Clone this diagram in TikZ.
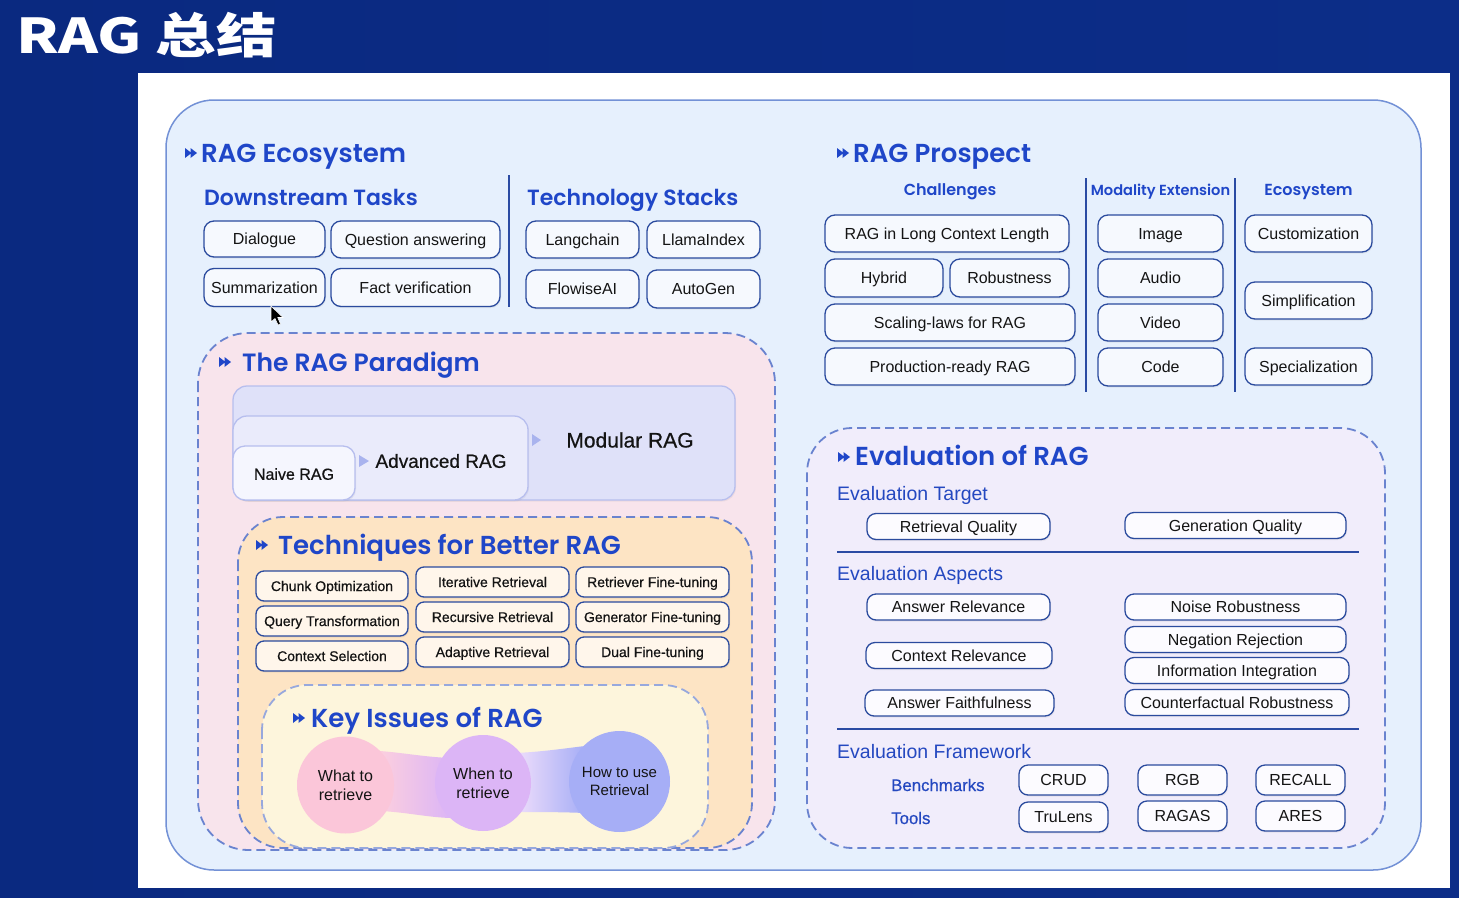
\documentclass[tikz,border=0pt]{standalone}
\usepackage{fontspec}
\usepackage{graphicx}
\usetikzlibrary{shadows}
\setmainfont{Liberation Sans}
\newfontfamily\medfont{Liberation Sans}[FakeBold=0.6]
\newfontfamily\cjkfont{Noto Sans CJK SC}
\IfFontExistsTF{Poppins SemiBold}
  {\newfontfamily\hdraw{Poppins SemiBold}\newcommand\hdf{\hdraw}}
  {\newfontfamily\hdraw{Poppins}\newcommand\hdf{\hdraw\bfseries}}
\definecolor{navy}{HTML}{0A2980}
\definecolor{navyb}{HTML}{0C2D88}
\definecolor{hdc}{HTML}{1F46C8}
\definecolor{subc}{HTML}{2448C0}
\definecolor{outerf}{HTML}{E6F0FD}
\definecolor{outerd}{HTML}{7391D6}
\definecolor{dashc}{HTML}{6A83CF}
\definecolor{pinkf}{HTML}{F8E4EC}
\definecolor{peachf}{HTML}{FDE4C4}
\definecolor{yelf}{HTML}{FDF5DC}
\definecolor{lavf}{HTML}{F1EDFB}
\definecolor{boxd}{HTML}{2B4B9E}
\definecolor{boxf}{HTML}{F6F9FE}
\definecolor{tboxf}{HTML}{FFF6EB}
\definecolor{eboxf}{HTML}{FCFBFF}
\definecolor{sepc}{HTML}{2B4BA3}
\definecolor{modf}{HTML}{DFE1F9}
\definecolor{modd}{HTML}{B7BEEE}
\definecolor{advf}{HTML}{EAEBFB}
\definecolor{naif}{HTML}{F5F6FE}
\definecolor{tipc}{HTML}{A9B3EE}
\definecolor{cpink}{HTML}{FBC6D9}
\definecolor{cpurp}{HTML}{DCB5F6}
\definecolor{cblue}{HTML}{A6AEF6}
\definecolor{txt}{HTML}{141414}
\begin{document}
\begin{tikzpicture}[x=1pt,y=-1pt,
  hd/.style={anchor=base west, inner sep=0pt, text=hdc, font=\hdf\fontsize{26}{30}\selectfont},
  hdtwo/.style={anchor=base west, inner sep=0pt, text=hdc, font=\hdf\fontsize{22}{26}\selectfont},
  hdthree/.style={anchor=base, inner sep=0pt, text=hdc, font=\hdf\fontsize{16}{19}\selectfont},
  evsub/.style={anchor=base west, inner sep=0pt, text=subc, font=\fontsize{19.5}{23}\selectfont},
  evsmall/.style={anchor=base west, inner sep=0pt, text=subc, font=\medfont\fontsize{16.8}{20}\selectfont},
  box/.style={draw=boxd, fill=boxf, line width=1.3pt, rounded corners=10pt, inner sep=0pt,
    text=txt, font=\fontsize{16}{19}\selectfont, text height=11.5pt, text depth=0pt,
    drop shadow={opacity=0.12, shadow xshift=1pt, shadow yshift=-1.5pt}},
  tbox/.style={box, fill=tboxf, rounded corners=8pt, minimum height=30, font=\medfont\fontsize{14}{17}\selectfont, text height=10pt},
  ebox/.style={box, fill=eboxf, rounded corners=9pt, minimum height=26},
  fbox/.style={box, fill=eboxf, rounded corners=9pt, minimum width=89, minimum height=30},
  dashbox/.style={draw=dashc, line width=1.8pt, dash pattern=on 9pt off 5pt},
  sep/.style={draw=sepc, line width=2pt},
  darr/.pic={\fill[hdc] (0,-5)--(6.5,0)--(0,5)--cycle (5.5,-5)--(12,0)--(5.5,5)--cycle;},
  circ/.style={circle, inner sep=0pt, align=center, text=txt, font=\fontsize{16}{19}\selectfont}
]
\useasboundingbox (0,0) rectangle (1459,897);
\shade[left color=navy, right color=navyb] (0,0) rectangle (1459,897);
\fill[white] (138,73) rectangle (1450,888);
\draw[draw=outerd, line width=1.5pt, fill=outerf, rounded corners=48pt] (166,100) rectangle (1421,870);

% title
\node[anchor=base west, inner sep=0pt, text=white, font=\cjkfont\bfseries\fontsize{48}{56}\selectfont] (title) at (16,53) {\scalebox{1.26}[1]{RAG 总结}};

% ===== RAG Ecosystem =====
\pic at (185,153) {darr};
\node[hd] (ecoT) at (201,162) {RAG Ecosystem};
\node[hdtwo] (dsT) at (204,205) {Downstream Tasks};
\node[hdtwo] (tsT) at (527,205) {Technology Stacks};
\coordinate (s1a) at (509,175); \coordinate (s1b) at (509,307);
\draw[sep] (s1a) -- (s1b);
\node[box, minimum width=121, minimum height=36] (dlg) at (264.5,239) {Dialogue};
\node[box, minimum width=169, minimum height=37] (qa) at (415.5,239.5) {Question answering};
\node[box, minimum width=121, minimum height=38] (summ) at (264.5,287.5) {Summarization};
\node[box, minimum width=169, minimum height=38] (fact) at (415.5,287.5) {Fact verification};
\node[box, minimum width=113, minimum height=37] (lang) at (582.5,239.5) {Langchain};
\node[box, minimum width=113, minimum height=37] (llama) at (703.5,239.5) {LlamaIndex};
\node[box, minimum width=113, minimum height=38] (flow) at (582.5,289) {FlowiseAI};
\node[box, minimum width=113, minimum height=38] (autog) at (703.5,289) {AutoGen};

% cursor
\filldraw[fill=black, draw=white, line width=0.6pt] (271,306) -- (271,322) -- (275,318.5) -- (278,325) -- (280.5,324) -- (277.8,317.5) -- (283,317.5) -- cycle;

% ===== RAG Prospect =====
\pic at (837,153) {darr};
\node[hd] (prT) at (853,162) {RAG Prospect};
\node[hdthree] (chT) at (950,195) {Challenges};
\node[hdthree, font=\hdf\fontsize{14.6}{18}\selectfont] (moT) at (1160.5,195) {Modality Extension};
\node[hdthree] (esT) at (1308.5,195) {Ecosystem};
\coordinate (s2a) at (1086,178); \coordinate (s2b) at (1086,392);
\coordinate (s3a) at (1235,178); \coordinate (s3b) at (1235,392);
\draw[sep] (s2a) -- (s2b);
\draw[sep] (s3a) -- (s3b);
\node[box, minimum width=244, minimum height=37] (longc) at (947,233.5) {RAG in Long Context Length};
\node[box, minimum width=118, minimum height=38] (hyb) at (884,278) {Hybrid};
\node[box, minimum width=119, minimum height=38] (robu) at (1009.5,278) {Robustness};
\node[box, minimum width=250, minimum height=37] (scal) at (950,322.5) {Scaling-laws for RAG};
\node[box, minimum width=250, minimum height=37] (prod) at (950,366.5) {Production-ready RAG};
\node[box, minimum width=125, minimum height=37] (img) at (1160.5,233.5) {Image};
\node[box, minimum width=125, minimum height=38] (aud) at (1160.5,278) {Audio};
\node[box, minimum width=125, minimum height=37] (vid) at (1160.5,322.5) {Video};
\node[box, minimum width=125, minimum height=38] (code) at (1160.5,367) {Code};
\node[box, minimum width=127, minimum height=37] (cust) at (1308.5,233.5) {Customization};
\node[box, minimum width=127, minimum height=37] (simp) at (1308.5,300.5) {Simplification};
\node[box, minimum width=127, minimum height=37] (spec) at (1308.5,366.5) {Specialization};

% ===== The RAG Paradigm =====
\draw[dashbox, fill=pinkf, rounded corners=50pt] (198,333) rectangle (775,850);
\pic at (219,362) {darr};
\node[hd, font=\hdf\fontsize{25}{30}\selectfont] (parT) at (242,371) {The RAG Paradigm};
\draw[draw=modd, line width=1.3pt, fill=modf, rounded corners=14pt, drop shadow={opacity=0.1, shadow xshift=1pt, shadow yshift=-1.5pt}] (233,386) rectangle (735,500);
\draw[draw=modd, line width=1.3pt, fill=advf, rounded corners=14pt, drop shadow={opacity=0.1, shadow xshift=1pt, shadow yshift=-1.5pt}] (233,416) rectangle (528,500);
\draw[draw=modd, line width=1.3pt, fill=naif, rounded corners=12pt, drop shadow={opacity=0.1, shadow xshift=1pt, shadow yshift=-1.5pt}] (233,446) rectangle (355,500);
\node[inner sep=0pt, text=txt, font=\medfont\fontsize{21}{25}\selectfont, text height=15pt, text depth=0pt] (modT) at (630,440) {Modular RAG};
\node[inner sep=0pt, text=txt, font=\medfont\fontsize{19}{23}\selectfont, text height=13.6pt, text depth=0pt] (advT) at (441,461) {Advanced RAG};
\node[inner sep=0pt, text=txt, font=\medfont\fontsize{16}{19}\selectfont, text height=11.5pt, text depth=0pt] (naiT) at (294,474) {Naive RAG};
\fill[tipc] (532,434) -- (541,440) -- (532,446) -- cycle;
\fill[tipc] (359,455) -- (369,461) -- (359,467) -- cycle;

% ===== Techniques =====
\draw[dashbox, fill=peachf, rounded corners=45pt] (238,517) rectangle (752,848);
\pic at (256,545) {darr};
\node[hd] (tecT) at (278,554) {Techniques for Better RAG};
\node[tbox, minimum width=152] (chunk) at (332,586) {Chunk Optimization};
\node[tbox, minimum width=152] (query) at (332,621) {Query Transformation};
\node[tbox, minimum width=152] (ctxs) at (332,656) {Context Selection};
\node[tbox, minimum width=153] (iter) at (492.5,582) {Iterative Retrieval};
\node[tbox, minimum width=153] (recur) at (492.5,617) {Recursive Retrieval};
\node[tbox, minimum width=153] (adapt) at (492.5,652) {Adaptive Retrieval};
\node[tbox, minimum width=153] (retf) at (652.5,582) {Retriever Fine-tuning};
\node[tbox, minimum width=153] (genf) at (652.5,617) {Generator Fine-tuning};
\node[tbox, minimum width=153] (dualf) at (652.5,652) {Dual Fine-tuning};

% ===== Key Issues =====
\draw[dashbox, draw=dashc!70, fill=yelf, rounded corners=45pt] (262,685) rectangle (708,848);
\pic at (293,718) {darr};
\node[hd] (keyT) at (311,727) {Key Issues of RAG};
\shade[left color=cpink!85!white, middle color=cpurp!55!white, right color=cpurp] (380,751) .. controls (405,753) and (425,757) .. (450,758) -- (450,818) .. controls (425,817) and (405,812) .. (380,811) -- cycle;
\shade[left color=cpurp!45!white, middle color=cblue!55!white, right color=cblue] (515,753) .. controls (540,752) and (560,749) .. (585,746) -- (585,813) .. controls (560,812) and (540,812) .. (515,812) -- cycle;
\node[circ, fill=cpink, minimum size=97] (c1) at (345.5,785) {What to\\retrieve};
\node[circ, fill=cpurp, minimum size=96] (c2) at (483,783) {When to\\retrieve};
\node[circ, fill=cblue, minimum size=101, font=\fontsize{15}{18}\selectfont] (c3) at (619.5,781.5) {How to use\\Retrieval};

% ===== Evaluation =====
\draw[dashbox, fill=lavf, rounded corners=45pt] (807,428) rectangle (1385,848);
\pic at (838,457) {darr};
\node[hd] (evT) at (855,465) {Evaluation of RAG};
\node[evsub] (etT) at (837,500) {Evaluation Target};
\node[ebox, minimum width=183] (retq) at (958.5,526.5) {Retrieval Quality};
\node[ebox, minimum width=221] (genq) at (1235.5,525.5) {Generation Quality};
\coordinate (l1a) at (837,552); \coordinate (l1b) at (1359,552);
\draw[sep] (l1a) -- (l1b);
\node[evsub] (eaT) at (837,580) {Evaluation Aspects};
\node[ebox, minimum width=183] (ansr) at (958.5,607) {Answer Relevance};
\node[ebox, minimum width=186] (ctxr) at (959,655.5) {Context Relevance};
\node[ebox, minimum width=189] (faith) at (959.5,703) {Answer Faithfulness};
\node[ebox, minimum width=221] (noise) at (1235.5,607) {Noise Robustness};
\node[ebox, minimum width=221] (negr) at (1235.5,639.5) {Negation Rejection};
\node[ebox, minimum width=224] (info) at (1237,670.5) {Information Integration};
\node[ebox, minimum width=224] (cfr) at (1237,702.5) {Counterfactual Robustness};
\coordinate (l2a) at (837,729); \coordinate (l2b) at (1359,729);
\draw[sep] (l2a) -- (l2b);
\node[evsub] (efT) at (837,758) {Evaluation Framework};
\node[evsmall] (bmT) at (891,791) {Benchmarks};
\node[evsmall] (toT) at (891,824) {Tools};
\node[fbox] (crud) at (1063.5,780) {CRUD};
\node[fbox] (rgb) at (1182.5,780) {RGB};
\node[fbox] (recall) at (1300.5,780) {RECALL};
\node[fbox] (trul) at (1063.5,817) {TruLens};
\node[fbox] (ragas) at (1182.5,816) {RAGAS};
\node[fbox] (ares) at (1300.5,816) {ARES};
\end{tikzpicture}
\end{document}
